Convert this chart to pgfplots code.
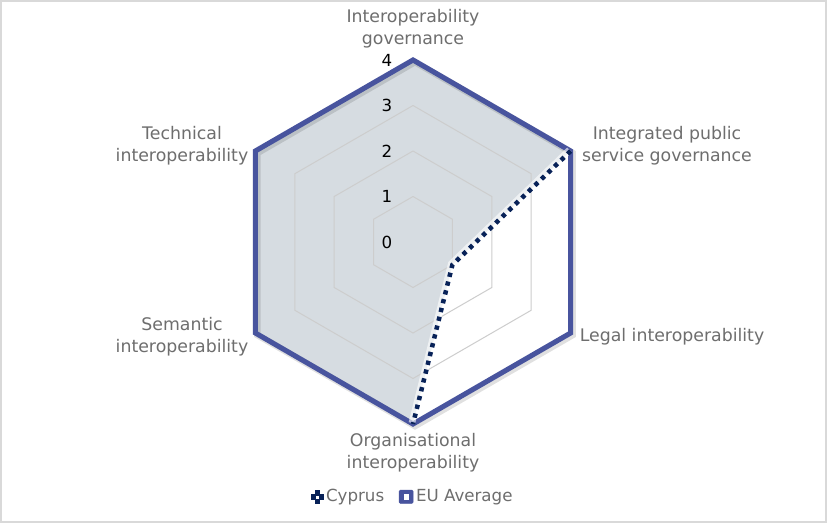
\documentclass[border=0pt]{standalone}
\usepackage{pgfplots}
\pgfplotsset{compat=1.18}
\usepgfplotslibrary{polar}
\usepackage{fontspec}
\setmainfont{DejaVu Sans}
\definecolor{eublue}{RGB}{72,84,158}
\definecolor{cynavy}{RGB}{8,34,88}
\definecolor{cyfill}{RGB}{214,220,225}
\definecolor{gridc}{RGB}{205,205,205}
\definecolor{txt}{RGB}{110,110,110}
\begin{document}
\begin{tikzpicture}[x=0.75pt,y=-0.75pt]
\fill[white] (0,0) rectangle (827,523);
\draw[black!15, line width=1.2pt] (0.8,0.8) rectangle (826.2,522.2);
\begin{polaraxis}[
  at={(309.75pt,-181.5pt)}, anchor=center,
  scale only axis, width=273pt, height=273pt,
  xmin=0, xmax=360, ymin=0, ymax=4,
  hide axis, clip=false,
  legend style={at={(0.5,-0.2)}, anchor=center, draw=none, fill=none,
    legend columns=2, font=\fontsize{12.5}{15}\selectfont, text=txt,
    /tikz/every even column/.append style={column sep=9pt}},
  legend cell align=left,
]
% Cyprus fill
\addplot[fill=cyfill, draw=none, forget plot] coordinates {(90,4) (30,4) (330,1.0) (270,4) (210,4) (150,4) (90,4)};
% grid hexagons
\addplot[gridc, line width=0.75pt, forget plot] coordinates {(90,1) (30,1) (330,1) (270,1) (210,1) (150,1) (90,1)};
\addplot[gridc, line width=0.75pt, forget plot] coordinates {(90,2) (30,2) (330,2) (270,2) (210,2) (150,2) (90,2)};
\addplot[gridc, line width=0.75pt, forget plot] coordinates {(90,3) (30,3) (330,3) (270,3) (210,3) (150,3) (90,3)};
% EU Average shadow
\addplot[black, opacity=0.12, line width=5pt, line join=miter, forget plot, xshift=1.5pt, yshift=-1.5pt] coordinates {(90,4) (30,4) (330,4) (270,4) (210,4) (150,4) (90,4) (30,4)};
% EU Average
\addplot[eublue, line width=3.8pt, line join=miter, forget plot] coordinates {(90,4) (30,4) (330,4) (270,4) (210,4) (150,4) (90,4) (30,4)};
% Cyprus outline
\addplot[white, opacity=0.6, line width=5pt, forget plot, xshift=-0.8pt, yshift=0.8pt] coordinates {(30,4) (330,1.0) (270,4)};
\addplot[cynavy, line width=3.4pt, dash pattern=on 3.2pt off 3.6pt, forget plot] coordinates {(30,4) (330,1.0) (270,4)};
\addlegendimage{legend image code/.code={
  \fill[cynavy] (2pt,-1.6pt) rectangle (5pt,1.6pt);
  \fill[cynavy] (8pt,-1.6pt) rectangle (11pt,1.6pt);
  \fill[cynavy] (4.9pt,-4.6pt) rectangle (8.1pt,-1.5pt);
  \fill[cynavy] (4.9pt,1.5pt) rectangle (8.1pt,4.6pt);
}}
\addlegendentry{Cyprus}
\addlegendimage{legend image code/.code={
  \fill[eublue, rounded corners=1pt] (1pt,-5pt) rectangle (11.5pt,5pt);
  \fill[white] (4.5pt,-1.7pt) rectangle (8pt,1.7pt);
}}
\addlegendentry{EU Average}
\end{polaraxis}
% tick labels
\foreach \k/\yy in {0/242,1/196.5,2/151,3/105.5,4/60} {
  \node[black, font=\fontsize{12.5}{15}\selectfont] at (387,\yy) {\k};
}
% category labels
\begin{scope}[every node/.style={text=txt, align=center, font=\fontsize{13}{16.5}\selectfont}]
\node at (413,29) {Interoperability\\governance};
\node at (667,146) {Integrated public\\service governance};
\node at (672,337) {Legal interoperability};
\node at (413,453) {Organisational\\interoperability};
\node at (182,337) {Semantic\\interoperability};
\node at (182,146) {Technical\\interoperability};
\end{scope}
\end{tikzpicture}
\end{document}
